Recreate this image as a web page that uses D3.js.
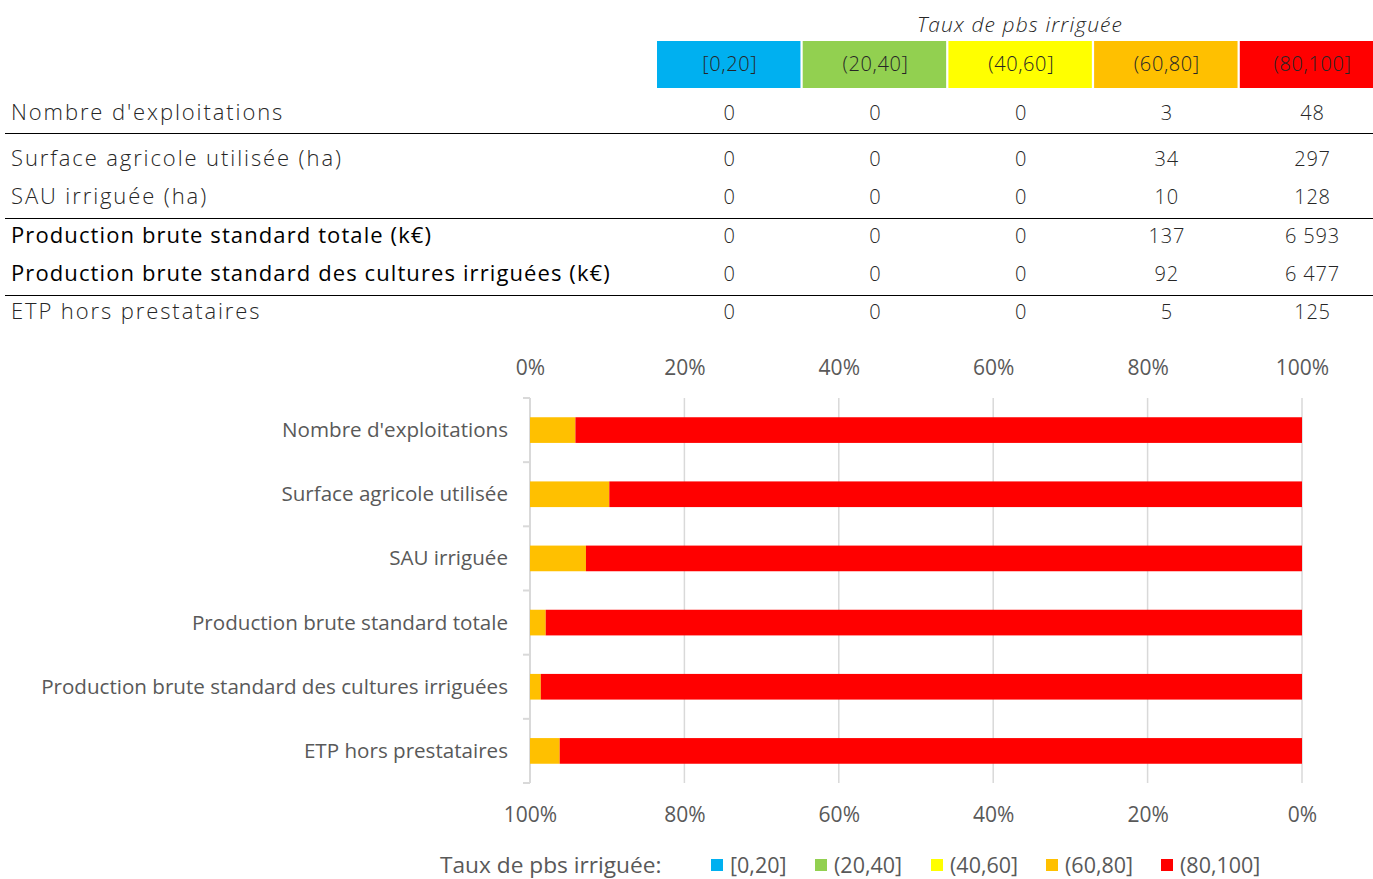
<!DOCTYPE html>
<html lang="fr">
<head>
  <meta charset="UTF-8" />
  <title>Taux de pbs irriguée</title>
  <script src="https://d3js.org/d3.v7.min.js"></script>
  <style>
    body { margin: 0; background: #fff; font-family: "Open Sans", sans-serif; }
    svg { display: block; }
  </style>
</head>
<body>
  <svg id="chart" width="1373" height="879"></svg>
  <script>
    // classes de taux de pbs irriguée
    const classes = ["[0,20]", "(20,40]", "(40,60]", "(60,80]", "(80,100]"];
    const classColors = ["#00b0f0", "#92d050", "#ffff00", "#ffc000", "#ff0000"];

    // lignes du tableau
    const tableLabels = [
      "Nombre d'exploitations",
      "Surface agricole utilisée (ha)",
      "SAU irriguée (ha)",
      "Production brute standard totale (k€)",
      "Production brute standard des cultures irriguées (k€)",
      "ETP hors prestataires"
    ];
    const chartLabels = [
      "Nombre d'exploitations",
      "Surface agricole utilisée",
      "SAU irriguée",
      "Production brute standard totale",
      "Production brute standard des cultures irriguées",
      "ETP hors prestataires"
    ];
    const nbExploitations = [0, 0, 0, 3, 48];
    const sau = [0, 0, 0, 34, 297];
    const sauIrriguee = [0, 0, 0, 10, 128];
    const pbsTotale = [0, 0, 0, 137, 6593];
    const pbsIrriguee = [0, 0, 0, 92, 6477];
    const etp = [0, 0, 0, 5, 125];
    const rowValues = [nbExploitations, sau, sauIrriguee, pbsTotale, pbsIrriguee, etp];

    const pctTicks = [0, 0.2, 0.4, 0.6, 0.8, 1];

    const svg = d3.select("#chart");
    const fr = d3.formatLocale({ decimal: ",", thousands: " ", grouping: [3], currency: ["", " €"] });
    const fmt = fr.format(",d");

    // ---- tableau ----
    const col = d3.scaleBand().domain(classes).range([657, 1383.25]).paddingInner(0.0155);

    svg.append("text")
      .attr("x", 1020).attr("y", 32)
      .attr("text-anchor", "middle")
      .style("font-style", "italic").style("font-weight", 300)
      .style("font-size", "21px").style("letter-spacing", "1.1px").attr("fill", "#262626")
      .text("Taux de pbs irriguée");

    const head = svg.append("g");
    head.selectAll("rect").data(classes).join("rect")
      .attr("x", d => col(d)).attr("y", 41)
      .attr("width", col.bandwidth()).attr("height", 47)
      .attr("fill", (d, i) => classColors[i]);
    head.selectAll("text").data(classes).join("text")
      .attr("x", d => col(d) + col.bandwidth() / 2 + 1).attr("y", 71)
      .attr("text-anchor", "middle")
      .style("font-size", "20px").style("font-weight", 300).style("letter-spacing", "0.6px")
      .attr("fill", "#262626")
      .text(d => d);

    const rowY = [112, 158, 196, 235, 273, 311];
    const bold = i => i === 3 || i === 4;
    const rows = svg.append("g").selectAll("g").data(tableLabels).join("g")
      .attr("transform", (d, i) => `translate(0,${rowY[i] + 8})`);
    rows.append("text")
      .attr("x", 11)
      .style("font-size", "22px")
      .style("font-weight", (d, i) => bold(i) ? 400 : 300)
      .style("letter-spacing", (d, i) => bold(i) ? "1.1px" : "1.9px")
      .attr("fill", (d, i) => bold(i) ? "#000" : "#262626")
      .text(d => d);
    rows.selectAll("text.val").data((d, i) => rowValues[i]).join("text")
      .attr("class", "val")
      .attr("x", (d, j) => col(classes[j]) + col.bandwidth() / 2 + 1)
      .attr("text-anchor", "middle")
      .style("font-size", "20px").style("font-weight", 300).style("letter-spacing", "0.8px")
      .attr("fill", "#262626")
      .text(d => fmt(d));

    [133.5, 218.5, 295.5].forEach(y => {
      svg.append("line").attr("x1", 5).attr("x2", 1373).attr("y1", y).attr("y2", y)
        .attr("stroke", "#000").attr("stroke-width", 1);
    });

    // ---- graphique empilé 100% ----
    const x = d3.scaleLinear().domain([0, 1]).range([530, 1302]);
    const xRev = d3.scaleLinear().domain([1, 0]).range([530, 1302]);
    const y = d3.scaleBand().domain(chartLabels).range([398, 783]).paddingInner(0.6).paddingOuter(0.3);
    const yEdges = d3.scaleBand().domain(chartLabels).range([398, 783]);

    const table = chartLabels.map((lab, i) => {
      const o = { label: lab };
      classes.forEach((c, j) => o[c] = rowValues[i][j]);
      return o;
    });
    const stacked = d3.stack().keys(classes).offset(d3.stackOffsetExpand)(table);

    const grid = svg.append("g");
    grid.selectAll("line").data(pctTicks.slice(1)).join("line")
      .attr("x1", d => x(d)).attr("x2", d => x(d))
      .attr("y1", 398).attr("y2", 783)
      .attr("stroke", "#d9d9d9").attr("stroke-width", 1.5);

    // axe vertical et petites graduations
    svg.append("line").attr("x1", 530).attr("x2", 530).attr("y1", 398).attr("y2", 783)
      .attr("stroke", "#d9d9d9").attr("stroke-width", 2);
    const edges = chartLabels.map(d => yEdges(d)).concat([783]);
    svg.append("g").selectAll("line").data(edges).join("line")
      .attr("x1", 523).attr("x2", 530).attr("y1", d => d).attr("y2", d => d)
      .attr("stroke", "#d9d9d9").attr("stroke-width", 2);

    svg.append("g").selectAll("g").data(stacked).join("g")
      .attr("fill", (d, i) => classColors[i])
      .selectAll("rect").data(d => d).join("rect")
      .attr("x", d => x(d[0]))
      .attr("width", d => x(d[1]) - x(d[0]))
      .attr("y", d => y(d.data.label))
      .attr("height", y.bandwidth());

    svg.append("g").selectAll("text").data(chartLabels).join("text")
      .attr("x", 508).attr("y", d => yEdges(d) + yEdges.bandwidth() / 2 + 7)
      .attr("text-anchor", "end")
      .style("font-size", "20.6px").attr("fill", "#595959")
      .text(d => d);

    const topAxis = svg.append("g").attr("transform", "translate(0,378)")
      .call(d3.axisTop(x).tickValues(pctTicks).tickFormat(d3.format(".0%")).tickSize(0));
    const botAxis = svg.append("g").attr("transform", "translate(0,804)")
      .call(d3.axisBottom(xRev).tickValues(pctTicks).tickFormat(d3.format(".0%")).tickSize(0));
    [topAxis, botAxis].forEach(a => {
      a.select(".domain").remove();
      a.selectAll("text").style("font-size", "21px").style("font-family", "Open Sans").attr("fill", "#595959");
    });

    // ---- légende ----
    const leg = svg.append("g").attr("transform", "translate(0,873)");
    leg.append("text").attr("x", 440).style("font-size", "22.7px").attr("fill", "#595959")
      .text("Taux de pbs irriguée:");
    const legX = [711, 815, 931, 1046, 1161];
    const items = leg.selectAll("g.item").data(classes).join("g")
      .attr("class", "item")
      .attr("transform", (d, i) => `translate(${legX[i]},0)`);
    items.append("rect").attr("y", -14).attr("width", 12).attr("height", 12)
      .attr("fill", (d, i) => classColors[i]);
    items.append("text").attr("x", 19).style("font-size", "21.5px").attr("fill", "#595959")
      .text(d => d);
  </script>
</body>
</html>
